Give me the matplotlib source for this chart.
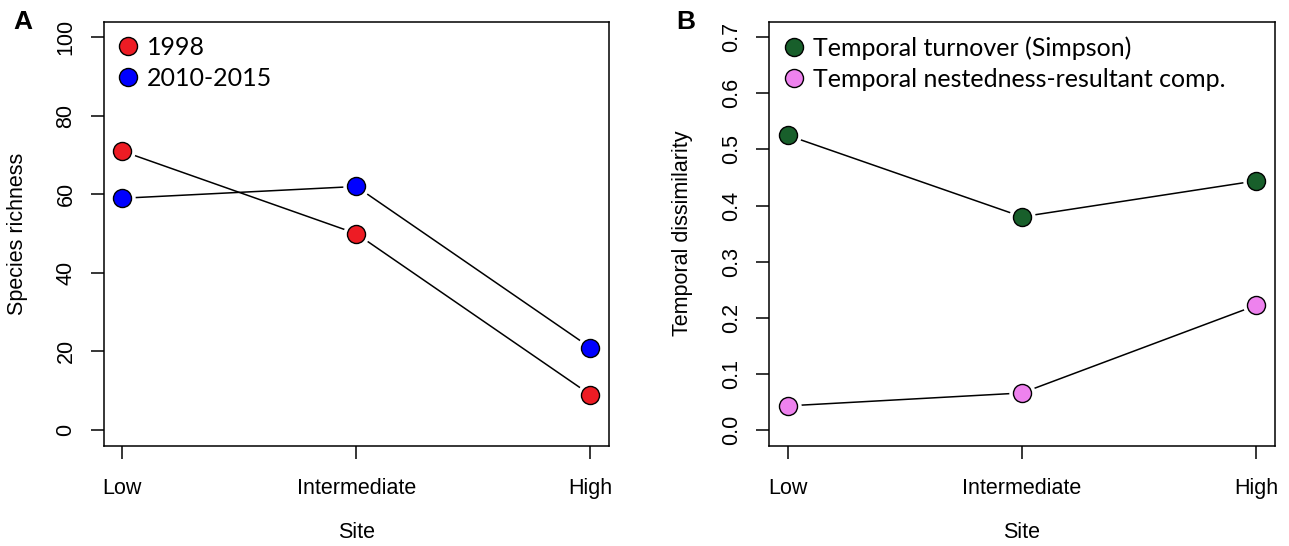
import matplotlib
matplotlib.use("Agg")
import matplotlib.pyplot as plt

plt.rcParams["font.family"] = ["Liberation Sans", "DejaVu Sans"]

sites = ["Low", "Intermediate", "High"]

richness_1998 = [71, 50, 9]
richness_2010 = [59, 62, 21]

turnover = [0.525, 0.380, 0.444]
nestedness = [0.043, 0.066, 0.222]

RED = "#ed1c24"
BLUE = "#0000ff"
GREEN = "#185f2b"
PINK = "#ee82ee"

TICK_FS = 15.5
LEG_FS = 18


def series(ax, x, y, color, label):
    # R type="b": line with small gaps around the points
    ax.plot(x, y, color="black", lw=1.1, zorder=1)
    ax.plot(x, y, ls="none", marker="o", ms=19, mfc="white", mec="none", zorder=2)
    ax.plot(x, y, ls="none", marker="o", ms=13, mfc=color, mec="black",
            mew=1.0, zorder=3, label=label)


def style(ax, ylim, yticks, yfmt, ylabel):
    x = [1, 2, 3]
    ax.set_xlim(0.92, 3.08)
    lo, hi = ylim
    pad = (hi - lo) * 0.04
    ax.set_ylim(lo - pad, hi + pad)
    ax.set_xticks(x, sites)
    ax.set_yticks(yticks, [yfmt % v for v in yticks])
    for lab in ax.get_yticklabels():
        lab.set_rotation(90)
        lab.set_va("center")
    ax.tick_params(length=9.5, width=1.1, labelsize=TICK_FS)
    ax.tick_params(axis="x", pad=14)
    ax.tick_params(axis="y", pad=10)
    for s in ax.spines.values():
        s.set_linewidth(1.1)
    ax.set_xlabel("Site", fontsize=TICK_FS)
    ax.xaxis.set_label_coords(0.5, -0.18)
    ax.set_ylabel(ylabel, fontsize=TICK_FS)
    ax.yaxis.set_label_coords(-0.15, 0.5)
    ax.legend(loc="upper left", bbox_to_anchor=(0.031, 0.966), frameon=False,
              borderpad=0, borderaxespad=0, handlelength=0.72, handletextpad=0.4,
              labelspacing=0.33, prop={"family": "Lato", "size": LEG_FS})


fig = plt.figure(figsize=(12.89, 5.46), dpi=100)
axA = fig.add_axes([0.0803, 0.1837, 0.3921, 0.7769])
axB = fig.add_axes([0.5968, 0.1837, 0.3921, 0.7769])

x = [1, 2, 3]
series(axA, x, richness_1998, RED, "1998")
series(axA, x, richness_2010, BLUE, "2010-2015")
style(axA, (0, 100), [0, 20, 40, 60, 80, 100], "%d", "Species richness")

series(axB, x, turnover, GREEN, "Temporal turnover (Simpson)")
series(axB, x, nestedness, PINK, "Temporal nestedness-resultant comp.")
style(axB, (0, 0.7), [0, 0.1, 0.2, 0.3, 0.4, 0.5, 0.6, 0.7], "%.1f",
      "Temporal dissimilarity")

fig.text(0.0175, 0.96, "A", fontsize=19, fontweight="bold", ha="center", va="center")
fig.text(0.532, 0.96, "B", fontsize=19, fontweight="bold", ha="center", va="center")

fig.savefig("out.png", dpi=100)
